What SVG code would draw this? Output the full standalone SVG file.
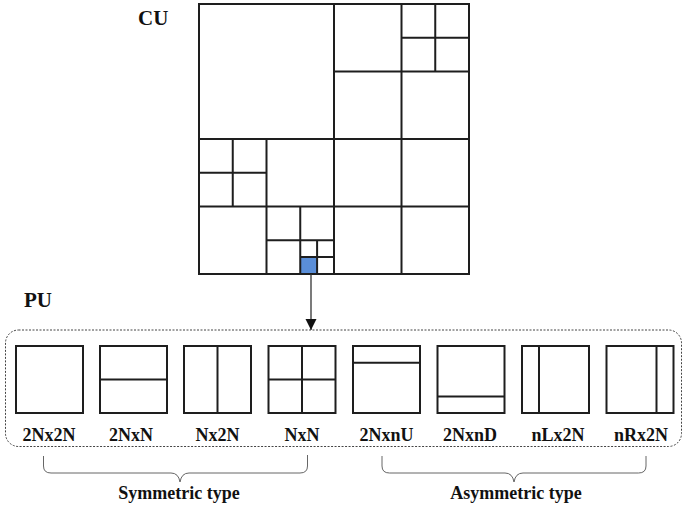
<svg xmlns="http://www.w3.org/2000/svg" width="682" height="510" viewBox="0 0 682 510">
  <style>
    .grid { fill: none; stroke: #1e1e1e; stroke-width: 2; }
    .pu { fill: #ffffff; stroke: #1e1e1e; stroke-width: 2; }
    .lbl { font-weight: bold; fill: #111; }
    .name { font-size: 18px; text-anchor: middle; }
    .head { font-size: 21px; }
    .brace { fill: none; stroke: #666; stroke-width: 1; }
    .frame { fill: none; stroke: #444; stroke-width: 1; stroke-dasharray: 2 1.5; }
  </style>
  <defs>
    <marker id="arrow" viewBox="0 0 10 10" refX="10" refY="5" markerWidth="11" markerHeight="14" markerUnits="userSpaceOnUse" orient="auto">
      <path d="M0,0 L10,5 L0,10 Z" fill="#111"/>
    </marker>
  </defs>

  <rect width="682" height="510" fill="#ffffff"/>

  <g font-family="'Liberation Serif', 'DejaVu Serif', serif">
  <!-- coding unit quadtree -->
  <g id="cu">
    <text class="lbl head" x="138" y="25">CU</text>
    <rect x="300.25" y="257.1" width="16.85" height="16.9" fill="#5a8ed8"/>
    <rect class="grid" x="199" y="4" width="270" height="270"/>
    <path class="grid" d="M334,4 V274 M199,139 H469
      M401.5,4 V139 M334,71.5 H469
      M435.25,4 V71.5 M401.5,37.75 H469
      M266.5,139 V274 M199,206.5 H334
      M232.75,139 V206.5 M199,172.75 H266.5
      M300.25,206.5 V274 M266.5,240.25 H334
      M317.1,240.25 V274 M300.25,257.1 H334
      M401.5,139 V274 M334,206.5 H469"/>
  </g>

  <!-- connectors -->
  <g id="connectors">
    <line x1="311" y1="274" x2="311" y2="330" stroke="#333" stroke-width="1.3" marker-end="url(#arrow)"/>
    <path class="brace" d="M43.5,456 V466 Q43.5,473 51,473 H171 Q178.5,473 180,482 Q181.5,473 189,473 H300 Q307.5,473 307.5,466 V455"/>
    <path class="brace" d="M382,456 V466 Q382,473 389.5,473 H505 Q512.5,473 514,482 Q515.5,473 523,473 H638.5 Q646,473 646,466 V456"/>
  </g>

  <!-- prediction unit partitions -->
  <g id="pu-frame">
    <text class="lbl head" x="24" y="307">PU</text>
    <rect class="frame" x="5.5" y="330" width="676" height="116.5" rx="13"/>
  </g>
  <g id="pu-2Nx2N">
    <rect class="pu" x="16" y="346" width="67" height="67"/>
    <text class="lbl name" x="49" y="441">2Nx2N</text>
  </g>
  <g id="pu-2NxN">
    <rect class="pu" x="100" y="346" width="67" height="67"/>
    <line class="grid" x1="100" y1="379.5" x2="167" y2="379.5"/>
    <text class="lbl name" x="131" y="441">2NxN</text>
  </g>
  <g id="pu-Nx2N">
    <rect class="pu" x="184" y="346" width="67" height="67"/>
    <line class="grid" x1="217.5" y1="346" x2="217.5" y2="413"/>
    <text class="lbl name" x="217.5" y="441">Nx2N</text>
  </g>
  <g id="pu-NxN">
    <rect class="pu" x="268.5" y="346" width="67" height="67"/>
    <path class="grid" d="M302,346 V413 M268.5,379.5 H335.5"/>
    <text class="lbl name" x="302" y="441">NxN</text>
  </g>
  <g id="pu-2NxnU">
    <rect class="pu" x="353" y="346" width="67" height="67"/>
    <line class="grid" x1="353" y1="362.75" x2="420" y2="362.75"/>
    <text class="lbl name" x="386.5" y="441">2NxnU</text>
  </g>
  <g id="pu-2NxnD">
    <rect class="pu" x="437.5" y="346" width="67" height="67"/>
    <line class="grid" x1="437.5" y1="396.5" x2="504.5" y2="396.5"/>
    <text class="lbl name" x="470" y="441">2NxnD</text>
  </g>
  <g id="pu-nLx2N">
    <rect class="pu" x="522" y="346" width="67" height="67"/>
    <line class="grid" x1="539" y1="346" x2="539" y2="413"/>
    <text class="lbl name" x="558" y="441">nLx2N</text>
  </g>
  <g id="pu-nRx2N">
    <rect class="pu" x="606.5" y="346" width="67" height="67"/>
    <line class="grid" x1="656.5" y1="346" x2="656.5" y2="413"/>
    <text class="lbl name" x="641" y="441">nRx2N</text>
  </g>

  <g id="groups">
    <text class="lbl name" x="179" y="499">Symmetric type</text>
    <text class="lbl name" x="516" y="499">Asymmetric type</text>
  </g>
  </g>
</svg>
